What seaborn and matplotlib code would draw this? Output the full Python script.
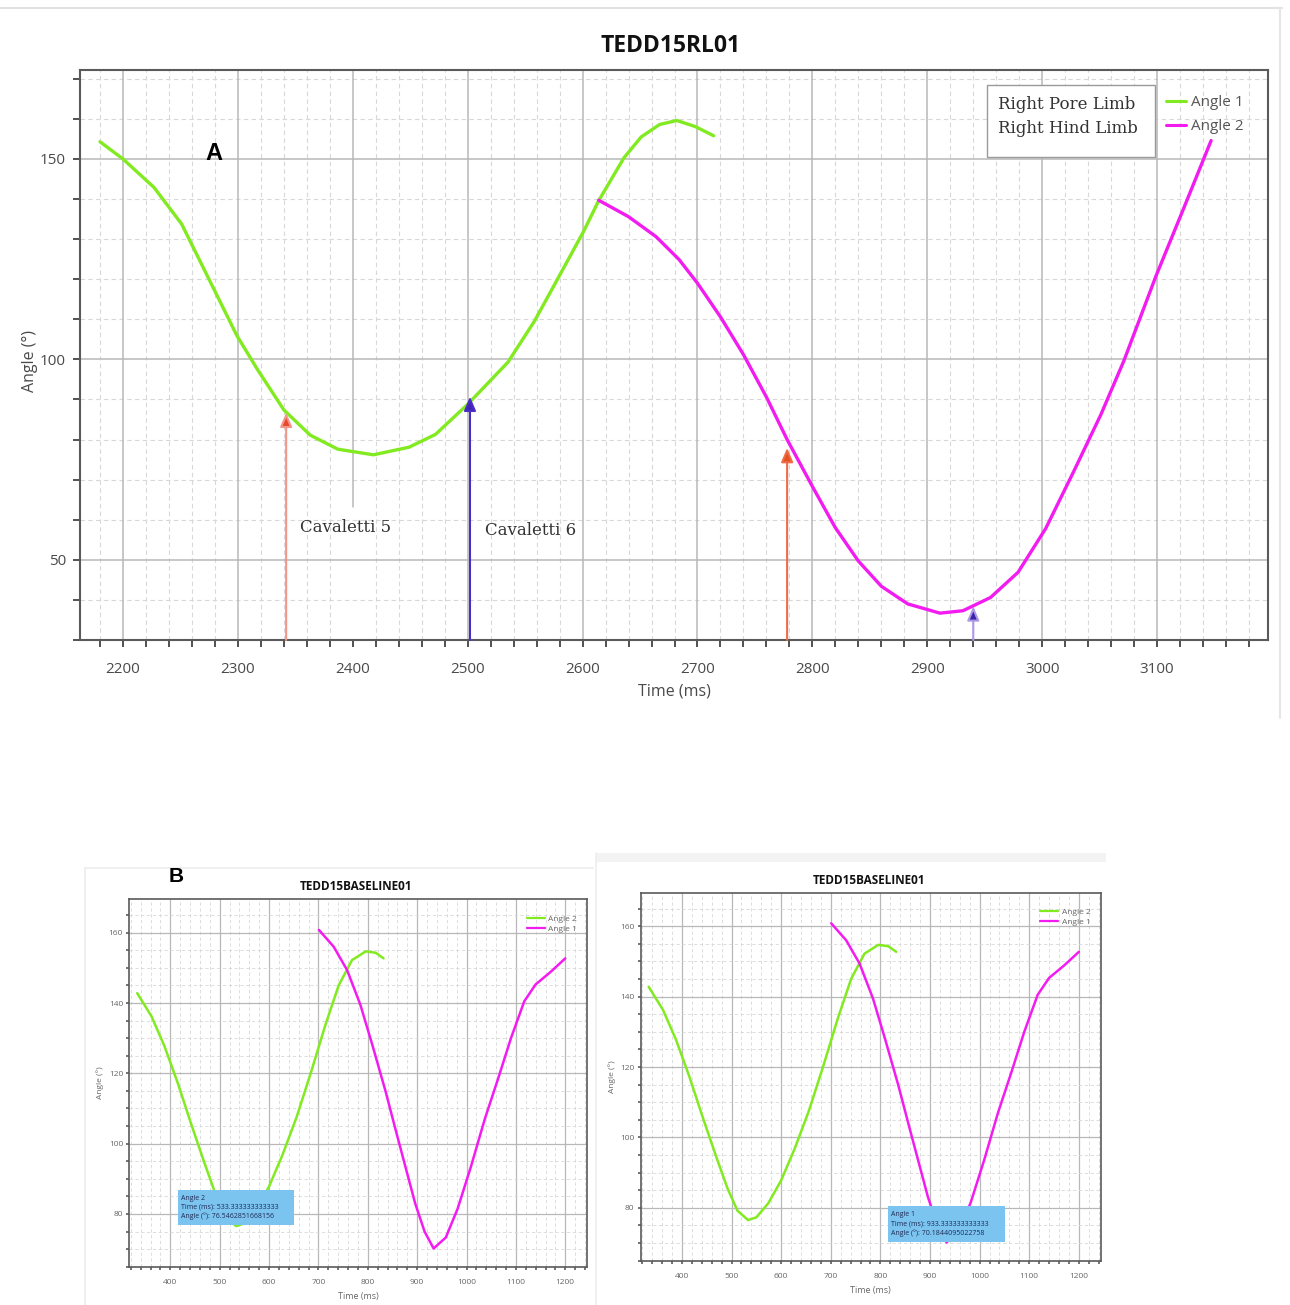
import matplotlib
matplotlib.use("Agg")
import matplotlib.pyplot as plt
import pandas as pd
import seaborn as sns
from matplotlib.ticker import MultipleLocator
from matplotlib.patches import Rectangle
from matplotlib.lines import Line2D

# ---- Trial TEDD15RL01: joint angle (deg) against time (ms) ----
rl_angle1_time = [2180, 2200, 2227, 2251, 2274, 2299, 2317, 2340, 2363, 2387, 2418, 2449,
                  2472, 2500, 2535, 2558, 2581, 2601, 2614, 2636, 2651, 2667, 2682, 2698, 2714]
rl_angle1_deg = [154.3, 150.0, 142.9, 133.8, 120.5, 106.0, 97.5, 87.4, 81.1, 77.6, 76.2, 78.1,
                 81.3, 88.8, 99.3, 109.5, 121.5, 132.0, 139.6, 150.3, 155.5, 158.6, 159.6, 158.1, 155.8]

rl_angle2_time = [2614, 2640, 2664, 2684, 2700, 2720, 2740, 2760, 2778, 2800, 2820, 2840, 2860,
                  2883, 2911, 2931, 2955, 2979, 3003, 3027, 3051, 3071, 3099, 3123, 3147]
rl_angle2_deg = [139.7, 135.6, 130.6, 124.9, 119.0, 110.6, 101.2, 90.6, 80.0, 68.3, 58.0, 49.7, 43.4,
                 39.0, 36.7, 37.3, 40.6, 46.9, 57.8, 71.8, 86.2, 99.6, 120.8, 137.6, 154.6]

# Cavaletti events marked with arrows (time, arrow tip angle)
cav_time = [2342, 2502, 2778, 2940]
cav_tip = [86.7, 90.7, 77.9, 38.4]
cav_shaft_color = ["#f2968a", "#4b2ec4", "#ee6a48", "#ab98e6"]
cav_head_color = ["#e8482c", "#4224b8", "#e4501e", "#3c22a8"]
cav_labels = ["Cavaletti 5", "Cavaletti 6"]
cav_label_time = [2354, 2515]
cav_label_deg = [58.0, 57.2]

limb_names = ["Right Pore Limb", "Right Hind Limb"]

# ---- Trial TEDD15BASELINE01 ----
base_angle2_time = [333, 362, 388, 415, 443, 468, 492, 512, 533.333333333333, 550, 574, 600,
                    627, 656, 685, 714, 741, 768, 796, 816, 832]
base_angle2_deg = [142.8, 136.2, 127.8, 117.3, 105.3, 95.0, 85.5, 79.2, 76.5462851668156, 77.3,
                   81.3, 87.8, 96.7, 107.6, 120.3, 133.7, 145.0, 152.2, 154.7, 154.3, 152.7]

base_angle1_time = [701, 731, 758, 785, 809, 836, 860, 878, 896, 915, 933.333333333333, 958,
                    982, 1009, 1037, 1064, 1090, 1117, 1140, 1170, 1200]
base_angle1_deg = [160.8, 156.0, 149.4, 139.5, 128.2, 114.9, 102.0, 92.5, 83.0, 75.0,
                   70.1844095022758, 73.3, 81.5, 93.5, 107.0, 118.5, 130.0, 140.5, 145.3, 148.8, 152.7]

sns.set_theme(style="white")
plt.rcParams["font.family"] = ["Open Sans", "DejaVu Sans"]

W, H = 1290, 1305
fig = plt.figure(figsize=(W / 100, H / 100), dpi=100)
fig.patch.set_facecolor("white")

GREEN = "#82ea20"
MAGENTA = "#f21cf0"
TXT = "#4a4a4a"


def px_axes(left, top, right, bottom):
    return fig.add_axes([left / W, 1 - bottom / H, (right - left) / W, (bottom - top) / H])


def fig_line(x0, y0, x1, y1, color, lw):
    fig.add_artist(Line2D([x0 / W, x1 / W], [1 - y0 / H, 1 - y1 / H],
                          transform=fig.transFigure, color=color, lw=lw))


def style_axes(ax, xmaj, xmin, ymaj, ymin, spine_lw, tick_len, major_lw, minor_lw, xgrid=True):
    ax.set_facecolor("white")
    ax.xaxis.set_major_locator(MultipleLocator(xmaj))
    ax.xaxis.set_minor_locator(MultipleLocator(xmin))
    ax.yaxis.set_major_locator(MultipleLocator(ymaj))
    ax.yaxis.set_minor_locator(MultipleLocator(ymin))
    ax.grid(which="major", axis="y", color="#b8b8b8", lw=major_lw)
    if xgrid:
        ax.grid(which="major", axis="x", color="#b8b8b8", lw=major_lw)
    ax.grid(which="minor", color="#d8d8d8", lw=minor_lw, ls=(0, (4, 3)))
    ax.set_axisbelow(True)
    for s in ax.spines.values():
        s.set_visible(True)
        s.set_color("#5a5a5a")
        s.set_linewidth(spine_lw)
    ax.tick_params(which="both", direction="out", bottom=True, left=True, top=False,
                   right=False, color="#4a4a4a", width=spine_lw * 0.9, length=tick_len)


# ================= Panel A =================
axA = px_axes(80, 70, 1268, 640)
style_axes(axA, 100, 20, 50, 10, 1.5, 5, 1.1, 0.8, xgrid=False)

rl1 = pd.DataFrame({"t": rl_angle1_time, "a": rl_angle1_deg})
rl2 = pd.DataFrame({"t": rl_angle2_time, "a": rl_angle2_deg})
sns.lineplot(data=rl1, x="t", y="a", ax=axA, color=GREEN, lw=2.4, label="Angle 1",
             sort=False, estimator=None, zorder=3)
sns.lineplot(data=rl2, x="t", y="a", ax=axA, color=MAGENTA, lw=2.4, label="Angle 2",
             sort=False, estimator=None, zorder=3)
for ln in axA.get_lines():
    ln.set_solid_joinstyle("round")
    ln.set_solid_capstyle("round")
axA.set_xlim(2162.6, 3196.5)
axA.set_ylim(30, 172.2)

# major vertical grid; the 2400 line stops above the "Cavaletti 5" label
y0, y1 = axA.get_ylim()
for t in range(2200, 3200, 100):
    lo = (63.2 - y0) / (y1 - y0) if t == 2400 else 0.0
    axA.axvline(t, ymin=lo, ymax=1, color="#b8b8b8", lw=1.1, zorder=0.6)

for t, tip, sc, hc in zip(cav_time, cav_tip, cav_shaft_color, cav_head_color):
    axA.annotate("", xy=(t, tip), xytext=(t, y0),
                 arrowprops=dict(arrowstyle="-|>,head_length=0.7,head_width=0.3",
                                 edgecolor=sc, facecolor=hc, lw=1.5,
                                 shrinkA=0, shrinkB=0),
                 zorder=4)

for lab, t, a in zip(cav_labels, cav_label_time, cav_label_deg):
    axA.text(t, a, lab, fontsize=12, family="DejaVu Serif", color="#333333",
             ha="left", va="center", zorder=5)

axA.tick_params(axis="x", labelsize=11, labelcolor=TXT, pad=11)
axA.tick_params(axis="y", labelsize=11, labelcolor=TXT, pad=5)
axA.set_xlabel("Time (ms)", fontsize=11.5, color=TXT, va="center")
axA.xaxis.set_label_coords(0.5, -(692 - 640) / 570)
axA.set_ylabel("Angle (°)", fontsize=11.5, color=TXT, va="center")
axA.yaxis.set_label_coords((30 - 80) / 1188, 0.49)

leg = axA.legend(loc="upper left", bbox_to_anchor=((1166 - 80) / 1188, 1 - (95 - 70) / 570),
                 frameon=False, fontsize=11, handlelength=1.3, handletextpad=0.35,
                 labelspacing=0.62, borderaxespad=0, borderpad=0)
for txt in leg.get_texts():
    txt.set_color("#555555")
for ln in leg.get_lines():
    ln.set_linewidth(2.2)

# limb names box
axA.add_patch(Rectangle(((987 - 80) / 1188, 1 - (157 - 70) / 570), (1155 - 987) / 1188,
                        (157 - 85) / 570, transform=axA.transAxes, facecolor="white",
                        edgecolor="#9a9a9a", lw=1.0, zorder=5))
for name, yy in zip(limb_names, [105, 129]):
    axA.text((998 - 80) / 1188, 1 - (yy - 70) / 570, name, transform=axA.transAxes,
             fontsize=12, family="DejaVu Serif", color="#333333",
             ha="left", va="center", zorder=6)

fig.text(671 / W, 1 - 46 / H, "TEDD15RL01", fontsize=16.5, fontweight="bold",
         ha="center", va="center", color="#111111")
fig.text(214 / W, 1 - 153 / H, "A", fontsize=17, fontweight="bold", family="Liberation Sans",
         ha="center", va="center", color="black")

# screenshot edges
fig_line(0, 8, 1282, 8, "#e2e2e2", 1.5)
fig_line(1280, 8, 1280, 718, "#e6e6e6", 1.5)


# ================= Panel B =================
def baseline_panel(ax, tip_series, tip_idx, box, title_xy, ylab_x, xlab_y):
    style_axes(ax, 100, 20, 20, 5, 1.2, 2.5, 0.9, 0.6)
    b2 = pd.DataFrame({"t": base_angle2_time, "a": base_angle2_deg})
    b1 = pd.DataFrame({"t": base_angle1_time, "a": base_angle1_deg})
    sns.lineplot(data=b2, x="t", y="a", ax=ax, color=GREEN, lw=1.8, label="Angle 2",
                 sort=False, estimator=None, zorder=3)
    sns.lineplot(data=b1, x="t", y="a", ax=ax, color=MAGENTA, lw=1.8, label="Angle 1",
                 sort=False, estimator=None, zorder=3)
    for ln in ax.get_lines():
        ln.set_solid_joinstyle("round")
    ax.set_xlim(317, 1244)
    ax.set_ylim(65, 169.5)
    ax.tick_params(axis="x", labelsize=6, labelcolor="#666666", pad=6)
    ax.tick_params(axis="y", labelsize=6, labelcolor="#666666", pad=2)
    ax.set_xlabel("Time (ms)", fontsize=6.5, color="#666666", va="center")
    pos = ax.get_position()
    ax.xaxis.set_label_coords(0.5, ((1 - xlab_y / H) - pos.y0) / pos.height)
    ax.set_ylabel("Angle (°)", fontsize=6, color="#666666", va="center")
    ax.yaxis.set_label_coords((ylab_x / W - pos.x0) / pos.width, 0.5)
    lg = ax.legend(loc="upper right", bbox_to_anchor=(0.978, 0.958), frameon=False,
                   fontsize=6, handlelength=2.2, handletextpad=0.4, labelspacing=0.3,
                   borderaxespad=0, borderpad=0)
    for txt in lg.get_texts():
        txt.set_color("#666666")
    for ln in lg.get_lines():
        ln.set_linewidth(1.6)

    name, times, degs = tip_series
    x0, x1, ylo, yhi = box
    ax.add_patch(Rectangle((x0, ylo), x1 - x0, yhi - ylo, facecolor="#7cc4f0",
                           edgecolor="none", zorder=6))
    ax.text(x0 + 0.025 * (x1 - x0), (ylo + yhi) / 2,
            f"{name}\nTime (ms): {times[tip_idx]}\nAngle (°): {degs[tip_idx]}",
            fontsize=5, color="#1d2b55", ha="left", va="center", linespacing=1.35, zorder=7)
    fig.text(title_xy[0] / W, 1 - title_xy[1] / H, "TEDD15BASELINE01", fontsize=8.5,
             fontweight="bold", ha="center", va="center", color="#111111")


axB1 = px_axes(129.3, 899.3, 587, 1266.7)
baseline_panel(axB1, ("Angle 2", base_angle2_time, base_angle2_deg), 8,
               (415.5, 649.8, 76.9, 86.8), (356, 886), 100, 1296)

axB2 = px_axes(640.7, 892.7, 1100.7, 1260.7)
baseline_panel(axB2, ("Angle 1", base_angle1_time, base_angle1_deg), 10,
               (815.8, 1050.3, 70.4, 80.4), (869, 880), 612, 1291)

fig.text(176 / W, 1 - 876 / H, "B", fontsize=15, fontweight="bold", family="Liberation Sans",
         ha="center", va="center", color="black")

# screenshot edges around the baseline panels
fig_line(85, 868, 593, 868, "#ececec", 1.2)
fig_line(85, 868, 85, 1305, "#ececec", 1.2)
fig.add_artist(Rectangle((596 / W, 1 - 862 / H), (1106 - 596) / W, 9 / H,
                         transform=fig.transFigure, facecolor="#f3f3f3", edgecolor="none"))
fig_line(596, 853, 596, 1305, "#eeeeee", 1.2)

fig.savefig("out.png", dpi=100, facecolor="white")
